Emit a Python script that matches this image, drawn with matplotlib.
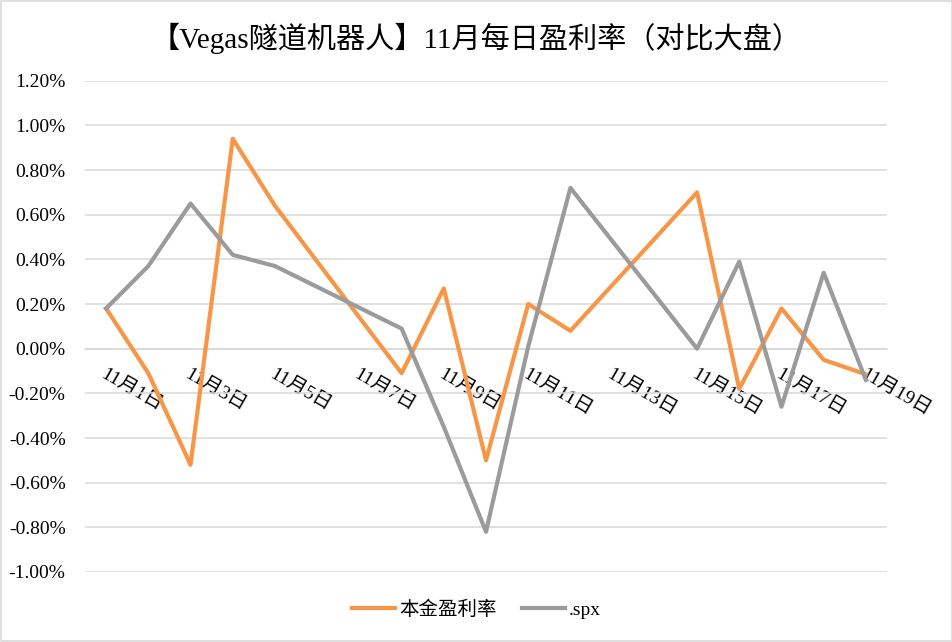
import matplotlib
matplotlib.use("Agg")
import matplotlib.pyplot as plt
from matplotlib.ticker import FuncFormatter, MultipleLocator
from matplotlib.patches import Rectangle

plt.rcParams['font.family'] = ['Liberation Serif', 'Noto Sans CJK SC', 'DejaVu Sans']

title = "【Vegas隧道机器人】11月每日盈利率（对比大盘）"
days = [1, 2, 3, 4, 5, 8, 9, 10, 11, 12, 15, 16, 17, 18, 19]
principal_rate = [0.18, -0.11, -0.52, 0.94, 0.64, -0.11, 0.27, -0.50, 0.20, 0.08,
                  0.70, -0.18, 0.18, -0.05, -0.115]
spx = [0.18, 0.37, 0.65, 0.42, 0.37, 0.09, -0.35, -0.82, 0.01, 0.72,
       0.00, 0.39, -0.26, 0.34, -0.14]
series_names = ["本金盈利率", ".spx"]
tick_days = [1, 3, 5, 7, 9, 11, 13, 15, 17, 19]
tick_labels = [f"11月{d}日" for d in tick_days]

fig = plt.figure(figsize=(9.53, 6.42), dpi=100)
ax = fig.add_axes([85 / 953, 1 - 572 / 642, (887 - 85) / 953, (572 - 80.7) / 642])

ax.plot(days, principal_rate, color='#F79646', lw=3, solid_joinstyle='round',
        label=series_names[0], zorder=3)
ax.plot(days, spx, color='#9B9B9B', lw=3, solid_joinstyle='round',
        label=series_names[1], zorder=3)

ax.set_xlim(0.5, 19.5)
ax.set_ylim(-1.0, 1.2)
ax.yaxis.set_major_locator(MultipleLocator(0.2))
ax.yaxis.set_major_formatter(FuncFormatter(lambda v, p: f"{v:.2f}%"))
ax.grid(axis='y', color='#D9D9D9', lw=1.1)
ax.set_axisbelow(True)

for s in ['top', 'right', 'left']:
    ax.spines[s].set_visible(False)
ax.spines['bottom'].set_position(('data', 0))
ax.spines['bottom'].set_color('#D9D9D9')
ax.spines['bottom'].set_linewidth(1.1)

ax.set_xticks(tick_days)
ax.set_xticklabels(tick_labels, rotation=-30, ha='left', va='top',
                   rotation_mode='anchor', fontsize=14)
ax.tick_params(axis='x', length=0, pad=12)
ax.tick_params(axis='y', length=0, pad=14, labelsize=14)

fig.text(0.5, 1 - 38 / 642, title, ha='center', va='center', fontsize=21)

fig.legend(loc='center', bbox_to_anchor=(0.5, 1 - 610 / 642), ncol=2, frameon=False,
           fontsize=14, handlelength=2.2, columnspacing=1.3, handletextpad=0.2)

fig.patches.append(Rectangle((0.001, 0.001), 0.998, 0.998, transform=fig.transFigure,
                             fill=False, edgecolor='#D9D9D9', lw=1.2))

fig.savefig("out.png", dpi=100)
